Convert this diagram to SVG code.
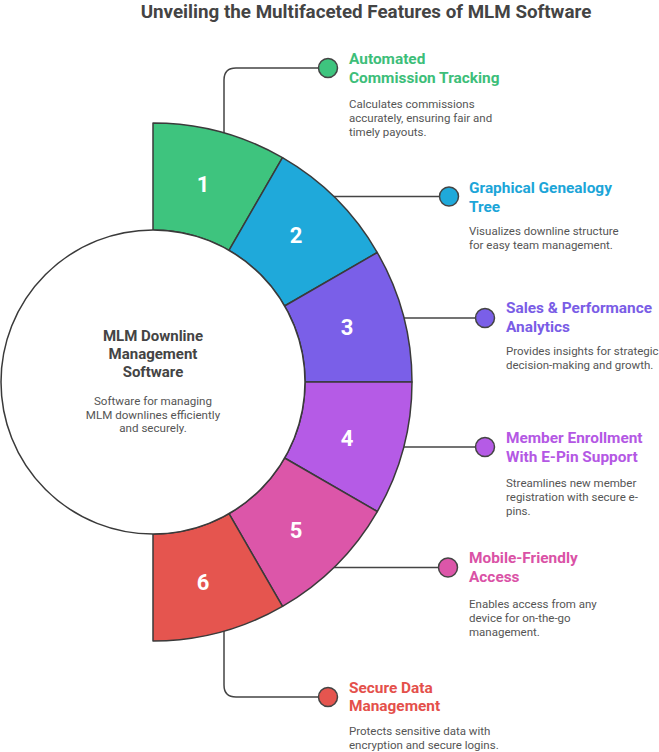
<svg xmlns="http://www.w3.org/2000/svg" width="659" height="752" viewBox="0 0 659 752">
<style>
text{font-family:Roboto,"Liberation Sans",sans-serif}
.main{font-size:18.8px;font-weight:bold;fill:#444;text-anchor:middle}
.seg{stroke:#3a3a3a;stroke-width:1.5;stroke-linejoin:round}
.num{font-size:22px;font-weight:bold;fill:#fff;text-anchor:middle}
.ht{font-size:15.4px;font-weight:bold}
.d{font-size:11.5px;fill:#555}
.conn{fill:none;stroke:#444;stroke-width:1.5}
.dot{stroke:#444;stroke-width:1.5}
.ct{font-size:15px;font-weight:bold;fill:#444;text-anchor:middle}
.cd{font-size:11.6px;fill:#555;text-anchor:middle}
</style>
<rect width="659" height="752" fill="#fff"/>
<text class="main" x="366" y="17.5">Unveiling the Multifaceted Features of MLM Software</text>

<g id="connectors">
<path class="conn" d="M224,133 V80 Q224,68 236,68 H318"/>
<path class="conn" d="M334,196.5 H439"/>
<path class="conn" d="M404,318 H475"/>
<path class="conn" d="M404,447 H475"/>
<path class="conn" d="M334,567.5 H438"/>
<path class="conn" d="M224,631 V685 Q224,697 236,697 H318"/>
</g>

<g id="seg1">
<path class="seg" fill="#3EC47E" d="M153,123 A259,259 0 0 1 282.5,157.7 L229,250.4 A152,152 0 0 0 153,230 Z"/>
<text class="num" x="203" y="192">1</text>
</g>
<g id="seg2">
<path class="seg" fill="#1FA9DA" d="M282.5,157.7 A259,259 0 0 1 377.3,252.5 L284.6,306 A152,152 0 0 0 229,250.4 Z"/>
<text class="num" x="296" y="243">2</text>
</g>
<g id="seg3">
<path class="seg" fill="#7A5FE8" d="M377.3,252.5 A259,259 0 0 1 412,382 L305,382 A152,152 0 0 0 284.6,306 Z"/>
<text class="num" x="347" y="335">3</text>
</g>
<g id="seg4">
<path class="seg" fill="#B55BE6" d="M412,382 A259,259 0 0 1 377.3,511.5 L284.6,458 A152,152 0 0 0 305,382 Z"/>
<text class="num" x="347" y="446">4</text>
</g>
<g id="seg5">
<path class="seg" fill="#DC56A9" d="M377.3,511.5 A259,259 0 0 1 282.5,606.3 L229,513.6 A152,152 0 0 0 284.6,458 Z"/>
<text class="num" x="296" y="538">5</text>
</g>
<g id="seg6">
<path class="seg" fill="#E5554F" d="M282.5,606.3 A259,259 0 0 1 153,641 L153,534 A152,152 0 0 0 229,513.6 Z"/>
<text class="num" x="203" y="590">6</text>
</g>

<g id="center">
<circle cx="153" cy="382" r="152" fill="#fff" stroke="#3a3a3a" stroke-width="1.5"/>
<text class="ct" x="153" y="341">MLM Downline</text>
<text class="ct" x="153" y="359">Management</text>
<text class="ct" x="153" y="377">Software</text>
<text class="cd" x="153" y="405">Software for managing</text>
<text class="cd" x="153" y="418.5">MLM downlines efficiently</text>
<text class="cd" x="153" y="432">and securely.</text>
</g>

<g id="item1">
<circle class="dot" cx="328" cy="68" r="9.5" fill="#3EC47E"/>
<text class="ht" fill="#3DBE79" x="349" y="64">Automated</text>
<text class="ht" fill="#3DBE79" x="349" y="82.5">Commission Tracking</text>
<text class="d" x="349" y="108">Calculates commissions</text>
<text class="d" x="349" y="122">accurately, ensuring fair and</text>
<text class="d" x="349" y="136">timely payouts.</text>
</g>
<g id="item2">
<circle class="dot" cx="449" cy="196.5" r="9.5" fill="#1FA9DA"/>
<text class="ht" fill="#1CA5D8" x="469" y="193">Graphical Genealogy</text>
<text class="ht" fill="#1CA5D8" x="469" y="211.5">Tree</text>
<text class="d" x="469" y="235">Visualizes downline structure</text>
<text class="d" x="469" y="249">for easy team management.</text>
</g>
<g id="item3">
<circle class="dot" cx="485" cy="318" r="9.5" fill="#7A5FE8"/>
<text class="ht" fill="#7A5DE6" x="506" y="313">Sales &amp; Performance</text>
<text class="ht" fill="#7A5DE6" x="506" y="331.5">Analytics</text>
<text class="d" x="506" y="355">Provides insights for strategic</text>
<text class="d" x="506" y="369">decision-making and growth.</text>
</g>
<g id="item4">
<circle class="dot" cx="485" cy="447" r="9.5" fill="#B55BE6"/>
<text class="ht" fill="#B458E4" x="506" y="443">Member Enrollment</text>
<text class="ht" fill="#B458E4" x="506" y="461.5">With E-Pin Support</text>
<text class="d" x="506" y="487">Streamlines new member</text>
<text class="d" x="506" y="501">registration with secure e-</text>
<text class="d" x="506" y="515">pins.</text>
</g>
<g id="item5">
<circle class="dot" cx="448" cy="567.5" r="9.5" fill="#DC56A9"/>
<text class="ht" fill="#DA52A6" x="469" y="563">Mobile-Friendly</text>
<text class="ht" fill="#DA52A6" x="469" y="581.5">Access</text>
<text class="d" x="469" y="608">Enables access from any</text>
<text class="d" x="469" y="622">device for on-the-go</text>
<text class="d" x="469" y="636">management.</text>
</g>
<g id="item6">
<circle class="dot" cx="328" cy="697" r="9.5" fill="#E5554F"/>
<text class="ht" fill="#E4504B" x="349" y="693">Secure Data</text>
<text class="ht" fill="#E4504B" x="349" y="711">Management</text>
<text class="d" x="349" y="735">Protects sensitive data with</text>
<text class="d" x="349" y="749">encryption and secure logins.</text>
</g>
</svg>
